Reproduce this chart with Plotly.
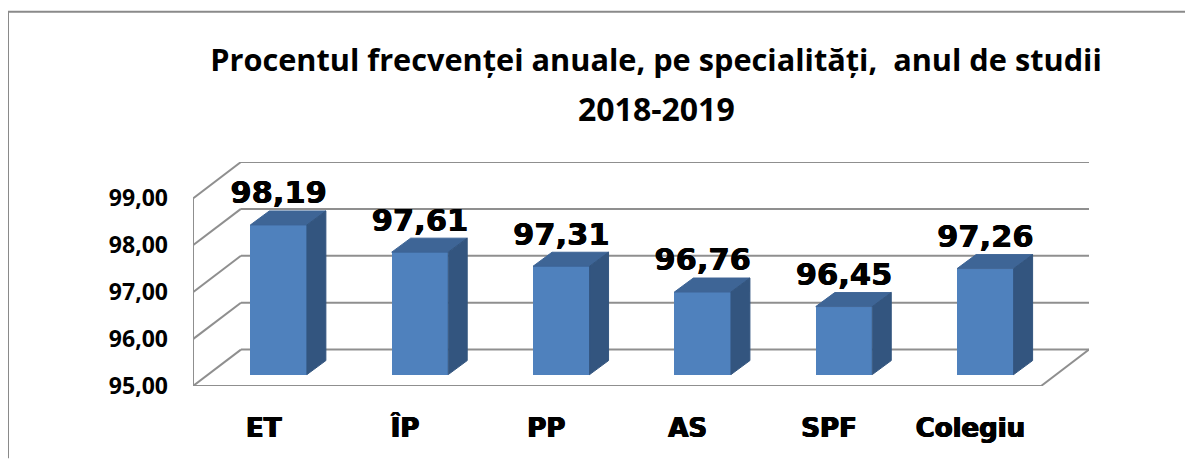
import plotly.graph_objects as go

categories = ["ET", "ÎP", "PP", "AS", "SPF", "Colegiu"]
values = [98.19, 97.61, 97.31, 96.76, 96.45, 97.26]
y_ticks = [95, 96, 97, 98, 99]
title_line1 = "Procentul frecvenței anuale, pe specialități,  anul de studii"
title_line2 = "2018-2019"

OFF = 8                                   # the page's own body margin
W, H = 1193 - OFF, 459 - OFF
L, R, T, B = 193 - OFF, 1089 - OFF, 161.7 - OFF, 386.5 - OFF   # plot area in pixels
X_SPAN = 6.339                            # category units across plot
Y_SPAN = 4.776                            # value units across plot
WALL_DX, WALL_DY = 0.339, 0.776           # depth of the chart box (data units)
BAR_X0, BAR_Y0 = 0.106, 0.244             # where bars stand on the floor
BAR_DX, BAR_DY = 0.134, 0.298             # depth of each bar
BAR_W = 0.40
BASE = 95
GRID = "#8f8f8f"
FRONT, TOP, SIDE = "#4f81bd", "#3e6596", "#33557f"
HEAVY = "0.7px 0 0 #000, -0.7px 0 0 #000, 0 0.4px 0 #000"
LABEL_HEAVY = "0.4px 0 0 #000, -0.4px 0 0 #000"

x_range = [-0.5, -0.5 + X_SPAN]
y_range = [BASE, BASE + Y_SPAN]
x_right = 5.5


def line(x0, y0, x1, y1):
    return dict(type="line", xref="x", yref="y", x0=x0, y0=y0, x1=x1, y1=y1,
                line=dict(color=GRID, width=2), layer="below")


shapes = [line(-0.5, BASE, -0.5, y_ticks[-1])]
for t in y_ticks:
    shapes.append(line(-0.5, t, -0.5 + WALL_DX, t + WALL_DY))
    shapes.append(line(-0.5 + WALL_DX, t + WALL_DY, x_right + WALL_DX, t + WALL_DY))
shapes.append(line(-0.5, BASE, x_right, BASE))
shapes.append(line(x_right, BASE, x_right + WALL_DX, BASE + WALL_DY))

# outer frame of the picture (top and left edges)
px = lambda v: (v - OFF - L) / (R - L)
py = lambda v: (B - (v - OFF)) / (B - T)
frame = dict(color="#8a8a8a", width=2)
shapes.append(dict(type="line", xref="paper", yref="paper", x0=px(8), x1=px(8), y0=py(11), y1=py(459), line=frame, layer="below"))
shapes.append(dict(type="line", xref="paper", yref="paper", x0=px(8), x1=px(1193), y0=py(11), y1=py(11), line=frame, layer="below"))

fig = go.Figure()
xs = list(range(len(categories)))
fig.add_trace(go.Bar(
    x=[i + BAR_X0 for i in xs], y=[v - BASE for v in values],
    base=BASE + BAR_Y0, width=BAR_W, marker=dict(color=FRONT, line=dict(width=0)),
    showlegend=False, hoverinfo="skip"))

for i, v in zip(xs, values):
    left = i + BAR_X0 - BAR_W / 2
    right = i + BAR_X0 + BAR_W / 2
    top = v + BAR_Y0
    bottom = BASE + BAR_Y0
    fig.add_trace(go.Scatter(
        x=[left, right, right + BAR_DX, left + BAR_DX, left],
        y=[top, top, top + BAR_DY, top + BAR_DY, top],
        mode="lines", fill="toself", fillcolor=TOP, line=dict(width=1, color=TOP),
        showlegend=False, hoverinfo="skip"))
    fig.add_trace(go.Scatter(
        x=[right, right + BAR_DX, right + BAR_DX, right, right],
        y=[bottom, bottom + BAR_DY, top + BAR_DY, top, bottom],
        mode="lines", fill="toself", fillcolor=SIDE, line=dict(width=1, color=SIDE),
        showlegend=False, hoverinfo="skip"))

fig.add_trace(go.Scatter(
    x=[i + BAR_X0 for i in xs], y=[v + BAR_Y0 + BAR_DY for v in values],
    mode="text", text=[f"{v:.2f}".replace(".", ",") for v in values],
    textposition="top center",
    textfont=dict(family="DejaVu Sans", size=30.5, color="#000000", weight="bold", shadow=LABEL_HEAVY),
    cliponaxis=False, showlegend=False, hoverinfo="skip"))

fig.update_layout(
    width=W, height=H, margin=dict(l=L, r=W - R, t=T, b=H - B, autoexpand=False),
    paper_bgcolor="#ffffff", plot_bgcolor="rgba(0,0,0,0)", separators=",.",
    bargap=0, shapes=shapes,
    title=dict(text=title_line1, x=(656 - OFF) / W, xref="container", xanchor="center",
               y=1 - (60 - OFF) / H, yref="container", yanchor="middle",
               font=dict(family="Open Sans", size=30.7, color="#000000", weight="bold")),
    annotations=[dict(text=title_line2, x=px(656), y=py(108), xref="paper", yref="paper",
                      xanchor="center", yanchor="middle", showarrow=False,
                      font=dict(family="Open Sans", size=32, color="#000000", weight="bold"))],
    xaxis=dict(range=x_range, tickvals=xs, ticktext=categories, showgrid=False, zeroline=False,
               showline=False, ticks="", ticklabelstandoff=24,
               tickfont=dict(family="DejaVu Sans", size=26, color="#000000", weight="bold", shadow=HEAVY)),
    yaxis=dict(range=y_range, tickvals=y_ticks, tickformat=".2f", showgrid=False, zeroline=False,
               showline=False, ticks="", ticklabelstandoff=24,
               tickfont=dict(family="Open Sans", size=23, color="#000000", weight="bold")),
)

fig.write_html("out.html")
